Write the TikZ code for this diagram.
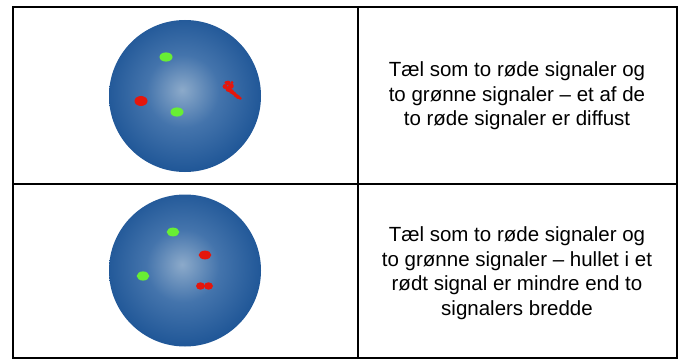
\documentclass[tikz,border=0pt]{standalone}
\usepackage{fontspec}
\setmainfont{Liberation Sans}
\usetikzlibrary{shapes.geometric}

% sphere and signal colours
\definecolor{sphA}{RGB}{140,170,202}
\definecolor{sphB}{RGB}{68,116,172}
\definecolor{sphC}{RGB}{26,82,148}
\definecolor{sphD}{RGB}{12,68,136}
\definecolor{sigred}{RGB}{228,22,12}
\definecolor{siggreen}{RGB}{104,238,52}

\pgfdeclareradialshading{spherefill}{\pgfpoint{-1bp}{2bp}}{%
  color(0bp)=(sphA); color(12bp)=(sphB); color(28bp)=(sphC);
  color(40bp)=(sphD); color(50bp)=(sphD)}

\tikzset{
  grid/.style={line width=2pt, line cap=rect},
  sphere/.style={circle, minimum size=152pt, inner sep=0pt, shading=spherefill},
  celltext/.style={align=center, inner sep=0pt,
    font=\fontsize{20.5}{24.5}\selectfont},
  green dot/.style={fill=siggreen},
  red dot/.style={fill=sigred}
}

\begin{document}
\begin{tikzpicture}[x=1pt, y=-1pt]
  \useasboundingbox (0,0) rectangle (681,361);

  % table frame
  \coordinate (tl) at (13,7);
  \coordinate (br) at (676.5,358);
  \coordinate (ml) at (13,184);
  \coordinate (mr) at (676.5,184);
  \coordinate (dt) at (358,7);
  \coordinate (db) at (358,358);
  \draw[grid] (tl) rectangle (br);
  \draw[grid] (ml) -- (mr);
  \draw[grid] (dt) -- (db);

  % upper row: sphere with one diffuse red signal
  \node[sphere] (s1) at (185,96) {};
  \fill[green dot] (166,57) ellipse [x radius=6.5, y radius=4.6];
  \fill[green dot] (177,112) ellipse [x radius=6.5, y radius=4.6];
  \fill[red dot] (141,101) ellipse [x radius=6.5, y radius=5];
  \foreach \px/\py/\r in {228/83/2.4, 225/86.5/2.4, 231/86/2.8, 228.5/89/3,
                          231.5/91.5/2.4, 226/82.5/1.7, 232/82.5/1.6,
                          234/93.5/2, 236/95.5/2, 238/97/2, 240/98.2/1.8}
    \fill[red dot] (\px,\py) circle [radius=\r];
  \node[celltext] (t1) at (517,96)
    {Tæl som to røde signaler og\\
     to grønne signaler \textendash{} et af de\\
     to røde signaler er diffust};

  % lower row: sphere with a split red signal
  \node[sphere] (s2) at (185,270.5) {};
  \fill[green dot] (173,232) ellipse [x radius=6.3, y radius=4.4];
  \fill[green dot] (143,276) ellipse [x radius=6.3, y radius=4.6];
  \fill[red dot] (205,255) ellipse [x radius=6.3, y radius=4.4];
  \fill[red dot] (200.5,286) ellipse [x radius=4.5, y radius=3.7];
  \fill[red dot] (208.5,286) ellipse [x radius=4.5, y radius=3.7];
  \node[celltext] (t2) at (517,273)
    {Tæl som to røde signaler og\\
     to grønne signaler \textendash{} hullet i et\\
     rødt signal er mindre end to\\
     signalers bredde};
\end{tikzpicture}
\end{document}
